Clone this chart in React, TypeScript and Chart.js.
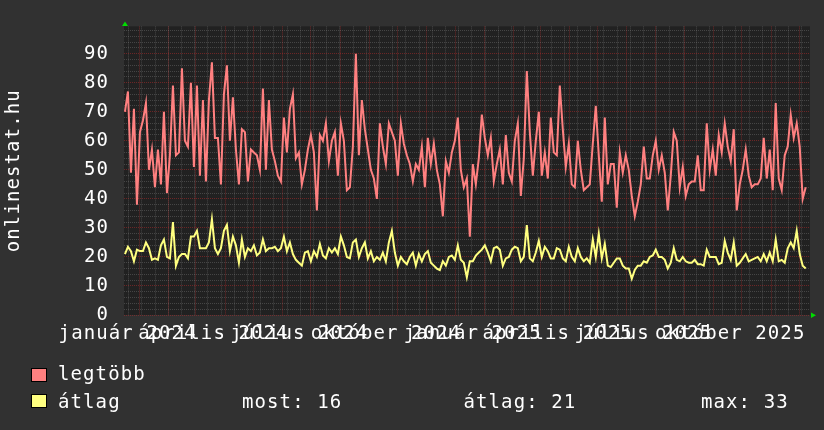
import React, { useEffect, useRef } from 'react';
import { Chart, registerables } from 'chart.js';

Chart.register(...registerables);

// ---- data ----
const SERIES_NAMES = ['legtöbb', 'átlag'];

const LEGTOBB = [
  70, 77, 49, 71, 38, 63, 67, 73, 50, 57, 44, 57, 45, 70, 42, 55, 79, 55, 56, 85,
  60, 58, 80, 51, 79, 48, 74, 46, 74, 87, 61, 61, 45, 76, 86, 60, 75, 57, 45, 64,
  63, 46, 57, 56, 55, 50, 78, 50, 74, 57, 53, 48, 46, 68, 56, 71, 76, 54, 56,
  45, 50, 57, 62, 56, 36, 62, 60, 66, 53, 60, 63, 48, 66, 60, 43, 44, 58, 90, 55,
  74, 64, 57, 50, 47, 40, 66, 58, 52, 66, 63, 60, 48, 66, 59, 55, 52, 46, 52, 50,
  58, 44, 61, 52, 59, 50, 45, 34, 53, 49, 56, 60, 68, 50, 44, 47, 27, 52,
  45, 54, 69, 61, 55, 61, 46, 52, 57, 45, 62, 49, 46, 60, 66, 41, 54, 84, 63, 48,
  60, 70, 48, 56, 47, 68, 56, 55, 79, 64, 51, 59, 45, 44, 60, 50, 43, 44, 45, 59,
  72, 55, 39, 68, 45, 52, 52, 37, 56, 49, 55, 50, 41, 34, 39, 45, 58, 47,
  47, 55, 60, 50, 55, 49, 36, 48, 63, 60, 44, 51, 41, 45, 46, 46, 55, 43, 43, 66,
  50, 57, 48, 62, 56, 66, 58, 53, 64, 36, 45, 50, 57, 48, 44, 45, 45, 47, 61, 47,
  57, 43, 73, 47, 43, 55, 58, 69, 61, 66, 58, 40, 44,
];

const ATLAG = [
  21, 23.5, 22, 18.5, 22.5, 22, 22, 25, 23, 19, 19.5, 19, 24, 26, 20, 19.5, 32, 17, 20, 21,
  21, 19.5, 27, 27, 29, 23, 23, 23, 25, 33, 23, 21, 23, 29, 31, 22, 27, 24, 18, 26,
  20, 23, 22, 24, 20.5, 21.5, 26, 22, 23, 23, 23.5, 22, 23, 27, 22, 25, 21, 19, 18,
  17, 21.5, 22, 18.5, 22, 20, 24.5, 20.5, 19.5, 23, 21.5, 23, 21, 27, 24, 20, 19.5, 25, 26, 20,
  23, 25, 19.5, 22, 18.5, 20, 19, 21.5, 18.5, 25, 29, 21.5, 17, 20, 18.5, 17.5, 20, 21.5, 17, 21,
  18.5, 21, 22, 18, 17, 16, 15.5, 18.5, 17, 20, 20.5, 19, 24, 19, 18, 13, 18.5, 18.5,
  20.5, 21.5, 22.5, 24, 21.5, 18.5, 23, 23.5, 22.5, 17, 19.5, 20, 22.5, 23.5, 23, 18.5, 20, 31, 19.5, 18.5,
  21.5, 25.5, 20, 23.5, 22, 19.5, 19.5, 23, 22.5, 19.5, 18.5, 23.5, 20, 18.5, 23, 20, 18.5, 19.5, 18, 26,
  20, 28, 19.5, 24.5, 17, 16.5, 18, 19.5, 19.5, 17, 16, 16, 12.5, 15.5, 17, 17, 18.5, 18,
  20, 20.5, 22.5, 20, 20, 19, 16, 18, 23, 19, 18.5, 20, 18.5, 18, 18, 19, 17.5, 17.5, 17, 22.5,
  20, 20, 20, 17.5, 18, 25.5, 21.5, 19, 25, 17, 18, 19.5, 21, 18.5, 19, 19.5, 20, 18.5, 21, 18.5,
  21.5, 18.5, 26, 18.5, 19, 18, 23, 25, 23, 29, 21, 17, 16,
];

// time axis: days since 2024-01-01
const SAMPLE_START_DAY = -15.2;
const SAMPLE_STEP_DAYS = 3.18;
const X_MIN_DAY = -16.2;
const X_MAX_DAY = 711.2;
const MINOR_GRID_FIRST_DAY = -11.3;
const MINOR_GRID_STEP_DAYS = 14;
const YEARS = [2024, 2025];
const MONTH_NAMES = [
  'január', 'február', 'március', 'április', 'május', 'június',
  'július', 'augusztus', 'szeptember', 'október', 'november', 'december',
];
const LABEL_MONTHS = [0, 3, 6, 9];

const Y_MAX = 99.4;
const Y_MINOR_STEP = 2;
const Y_MAJOR_STEP = 10;

const Y_TITLE = 'onlinestat.hu';
const STAT_LABELS = ['most', 'átlag', 'max'];
const STAT_VALUES = [16, 21, 33];

// ---- styles ----
const BG = '#313131';
const PLOT_BG = '#212121';
const RED = '#ff8080';
const YELLOW = '#ffff80';
const TEXT = '#ffffff';
const MINOR_GRID = 'rgba(140,140,140,0.34)';
const MAJOR_GRID = 'rgba(200,45,45,0.45)';
const FONT_FAMILY = 'DejaVu Sans Mono';
const FONT_SIZE = 19;
const LETTER_SPACING = '1.1px';

const dayOf = (y: number, m: number) => (Date.UTC(y, m, 1) - Date.UTC(2024, 0, 1)) / 86400000;

export default function App() {
  const ref = useRef<HTMLCanvasElement | null>(null);

  useEffect(() => {
    document.body.style.margin = '0';
    const canvas = ref.current;
    if (!canvas) return;

    const monthDays = new Set<number>();
    const labelMap = new Map<number, string>();
    for (const y of YEARS) {
      for (let m = 0; m < 12; m++) {
        const d = dayOf(y, m);
        if (d < X_MIN_DAY || d > X_MAX_DAY) continue;
        monthDays.add(d);
        if (LABEL_MONTHS.includes(m)) labelMap.set(d, `${MONTH_NAMES[m]} ${y}`);
      }
    }
    const xTickValues: number[] = [];
    for (let d = MINOR_GRID_FIRST_DAY; d <= X_MAX_DAY; d += MINOR_GRID_STEP_DAYS) xTickValues.push(d);
    monthDays.forEach((d) => xTickValues.push(d));
    xTickValues.sort((a, b) => a - b);

    const yTickValues: number[] = [];
    for (let v = 0; v <= Y_MAX; v += Y_MINOR_STEP) yTickValues.push(v);

    const decor = {
      id: 'decor',
      beforeLayout(chart: any) {
        chart.ctx.letterSpacing = LETTER_SPACING;
      },
      beforeDraw(chart: any) {
        const { ctx, chartArea: a, width, height } = chart;
        ctx.letterSpacing = LETTER_SPACING;
        ctx.save();
        ctx.fillStyle = BG;
        ctx.fillRect(0, 0, width, height);
        ctx.fillStyle = PLOT_BG;
        ctx.fillRect(a.left, a.top, a.right - a.left, a.bottom - a.top);
        ctx.restore();
      },
      afterDraw(chart: any) {
        const { ctx, chartArea: a } = chart;
        ctx.save();
        ctx.letterSpacing = LETTER_SPACING;
        ctx.font = `${FONT_SIZE}px "${FONT_FAMILY}"`;
        ctx.fillStyle = TEXT;

        // y title
        ctx.save();
        ctx.translate(18.5, (a.top + a.bottom) / 2);
        ctx.rotate(-Math.PI / 2);
        ctx.textAlign = 'center';
        ctx.textBaseline = 'alphabetic';
        ctx.fillText(Y_TITLE, 0, 0);
        ctx.restore();

        // arrows
        ctx.fillStyle = '#00dd00';
        ctx.beginPath();
        ctx.moveTo(a.left - 2, a.top - 0.5);
        ctx.lineTo(a.left + 4, a.top - 0.5);
        ctx.lineTo(a.left + 1, a.top - 5);
        ctx.closePath();
        ctx.fill();
        ctx.beginPath();
        ctx.moveTo(a.right + 1, a.bottom - 2.5);
        ctx.lineTo(a.right + 1, a.bottom + 3);
        ctx.lineTo(a.right + 6, a.bottom + 0.25);
        ctx.closePath();
        ctx.fill();

        // legend
        const colors = [RED, YELLOW];
        const rowsY = [368, 394];
        const baselines = [380, 408];
        ctx.textAlign = 'left';
        ctx.textBaseline = 'alphabetic';
        SERIES_NAMES.forEach((name, i) => {
          ctx.fillStyle = colors[i];
          ctx.fillRect(31, rowsY[i], 16, 14);
          ctx.strokeStyle = '#000000';
          ctx.lineWidth = 1;
          ctx.strokeRect(31.5, rowsY[i] + 0.5, 15, 13);
          ctx.fillStyle = TEXT;
          ctx.fillText(name, 58, baselines[i]);
        });
        const statX = [242, 463.5, 701];
        STAT_LABELS.forEach((lab, i) => {
          ctx.fillText(`${lab}: ${STAT_VALUES[i]}`, statX[i], baselines[1]);
        });
        ctx.restore();
      },
    };

    const toPoints = (arr: number[]) =>
      arr.map((v, i) => ({ x: SAMPLE_START_DAY + i * SAMPLE_STEP_DAYS, y: v }));

    const chart = new Chart(canvas, {
      type: 'line',
      data: {
        datasets: [
          { label: SERIES_NAMES[0], data: toPoints(LEGTOBB), borderColor: RED, borderWidth: 2 },
          { label: SERIES_NAMES[1], data: toPoints(ATLAG), borderColor: YELLOW, borderWidth: 2 },
        ],
      },
      options: {
        animation: false,
        responsive: false,
        events: [],
        layout: { padding: { left: 0, top: 13, right: 14, bottom: 0 } },
        elements: { point: { radius: 0 }, line: { tension: 0 } },
        plugins: { legend: { display: false }, tooltip: { enabled: false }, title: { display: false } },
        scales: {
          x: {
            type: 'linear',
            min: X_MIN_DAY,
            max: X_MAX_DAY,
            bounds: 'data',
            afterBuildTicks: (scale: any) => {
              scale.ticks = xTickValues.map((v) => ({ value: v }));
            },
            afterFit: (scale: any) => {
              scale.height = 115;
            },
            border: { display: false, dash: [1, 1] },
            grid: {
              drawTicks: false,
              lineWidth: 1,
              color: (ctx: any) => (ctx.tick && monthDays.has(ctx.tick.value) ? MAJOR_GRID : MINOR_GRID),
            },
            ticks: {
              autoSkip: false,
              maxRotation: 0,
              minRotation: 0,
              padding: 8,
              labelOffset: -11.7,
              color: TEXT,
              font: { family: FONT_FAMILY, size: FONT_SIZE },
              callback: (v: any) => labelMap.get(Number(v)) ?? '',
            },
          },
          y: {
            type: 'linear',
            min: 0,
            max: Y_MAX,
            bounds: 'data',
            afterBuildTicks: (scale: any) => {
              scale.ticks = yTickValues.map((v) => ({ value: v }));
            },
            afterFit: (scale: any) => {
              scale.width = 124;
            },
            border: { display: false, dash: [1, 1] },
            grid: {
              drawTicks: false,
              lineWidth: 1,
              color: (ctx: any) =>
                ctx.tick && ctx.tick.value % Y_MAJOR_STEP === 0 ? MAJOR_GRID : MINOR_GRID,
            },
            ticks: {
              autoSkip: false,
              padding: 15,
              color: TEXT,
              font: { family: FONT_FAMILY, size: FONT_SIZE },
              callback: (v: any) => (Number(v) % Y_MAJOR_STEP === 0 ? String(v) : ''),
            },
          },
        },
      },
      plugins: [decor],
    });

    return () => chart.destroy();
  }, []);

  return (
    <div style={{ width: 824, height: 430 }}>
      <canvas ref={ref} width={824} height={430} style={{ display: 'block', width: 824, height: 430 }} />
    </div>
  );
}
